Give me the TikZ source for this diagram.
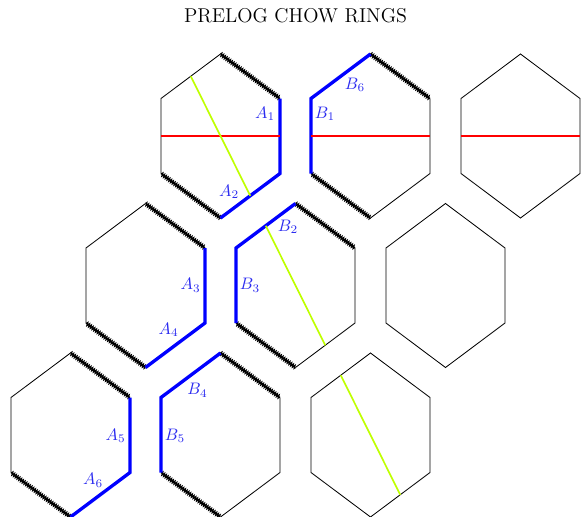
\documentclass[tikz,border=0pt]{standalone}
\usepackage{tikz}
\usepackage{xcolor}
\usetikzlibrary{decorations.pathmorphing, calc}
\definecolor{edgeblue}{HTML}{0000FF}
\definecolor{labelblue}{HTML}{2B2BF0}
\definecolor{chordred}{HTML}{FF0000}
\definecolor{chordlime}{HTML}{BFFF00}
\tikzset{
  hexEdge/.style = {draw=black, line width=0.5pt},
  wavyEdge/.style = {draw=black, line width=0.8pt, decorate,
    decoration={zigzag, segment length=1.3pt, amplitude=0.8pt}},
  markedEdge/.style = {draw=edgeblue, line width=2pt, line join=miter},
  redChord/.style = {draw=chordred, line width=1pt},
  limeChord/.style = {draw=chordlime, line width=1pt},
  edgeLabel/.style = {text=labelblue, inner sep=0pt},
  heading/.style = {font=\large},
}

\begin{document}
\begin{tikzpicture}[x=0.6pt, y=0.6pt]
\useasboundingbox (0,0) rectangle (582,-516);

\node[heading] (title) at (295.5,-16) {PRELOG CHOW RINGS};

% corners: 1 top, 2 upper right, 3 lower right, 4 bottom, 5 lower left, 6 upper left
\foreach \hx/\cx/\cy in {a1/220.5/-136, a2/370.5/-136, a3/520.5/-136,
                         b1/145.5/-285.5, b2/295.5/-285.5, b3/445.5/-285.5,
                         c1/70.5/-435, c2/220.5/-435, c3/370.5/-435} {
  \coordinate (\hx-c) at (\cx,\cy);
  \coordinate (\hx-1) at (\cx,\cy+82);
  \coordinate (\hx-2) at (\cx+59.5,\cy+37.5);
  \coordinate (\hx-3) at (\cx+59.5,\cy-37.5);
  \coordinate (\hx-4) at (\cx,\cy-82);
  \coordinate (\hx-5) at (\cx-59.5,\cy-37.5);
  \coordinate (\hx-6) at (\cx-59.5,\cy+37.5);
}

% left column of each row
\foreach \hx in {a1, b1, c1} {
  \draw[wavyEdge] (\hx-1) -- (\hx-2);
  \draw[wavyEdge] (\hx-4) -- (\hx-5);
  \draw[hexEdge] (\hx-5) -- (\hx-6) -- (\hx-1);
  \draw[markedEdge] (\hx-2) -- (\hx-3) -- (\hx-4);
}
% middle column
\foreach \hx in {a2, b2, c2} {
  \draw[wavyEdge] (\hx-1) -- (\hx-2);
  \draw[wavyEdge] (\hx-4) -- (\hx-5);
  \draw[hexEdge] (\hx-2) -- (\hx-3) -- (\hx-4);
  \draw[markedEdge] (\hx-5) -- (\hx-6) -- (\hx-1);
}
% right column
\foreach \hx in {a3, b3, c3} {
  \draw[hexEdge] (\hx-1) -- (\hx-2) -- (\hx-3) -- (\hx-4) -- (\hx-5) -- (\hx-6) -- cycle;
}

% chords
\foreach \hx in {a1, a2, a3} {
  \draw[redChord] ($(\hx-5)!0.5!(\hx-6)$) -- ($(\hx-2)!0.5!(\hx-3)$);
}
\foreach \hx in {a1, b2, c3} {
  \draw[limeChord] ($(\hx-6)!0.5!(\hx-1)$) -- ($(\hx-3)!0.5!(\hx-4)$);
}

% labels
\node[edgeLabel] (lA1) at ([shift={(44.5,22)}]a1-c) {$A_1$};
\node[edgeLabel] (lA2) at ([shift={(8.5,-56)}]a1-c) {$A_2$};
\node[edgeLabel] (lB1) at ([shift={(-45.5,22)}]a2-c) {$B_1$};
\node[edgeLabel] (lB6) at ([shift={(-15.5,51)}]a2-c) {$B_6$};
\node[edgeLabel] (lA3) at ([shift={(45,0)}]b1-c) {$A_3$};
\node[edgeLabel] (lA4) at ([shift={(23,-44.5)}]b1-c) {$A_4$};
\node[edgeLabel] (lB2) at ([shift={(-7.5,58.5)}]b2-c) {$B_2$};
\node[edgeLabel] (lB3) at ([shift={(-45.5,0)}]b2-c) {$B_3$};
\node[edgeLabel] (lA5) at ([shift={(45,-1)}]c1-c) {$A_5$};
\node[edgeLabel] (lA6) at ([shift={(22.5,-45.5)}]c1-c) {$A_6$};
\node[edgeLabel] (lB4) at ([shift={(-23,44.5)}]c2-c) {$B_4$};
\node[edgeLabel] (lB5) at ([shift={(-45.5,-1)}]c2-c) {$B_5$};
\end{tikzpicture}
\end{document}
